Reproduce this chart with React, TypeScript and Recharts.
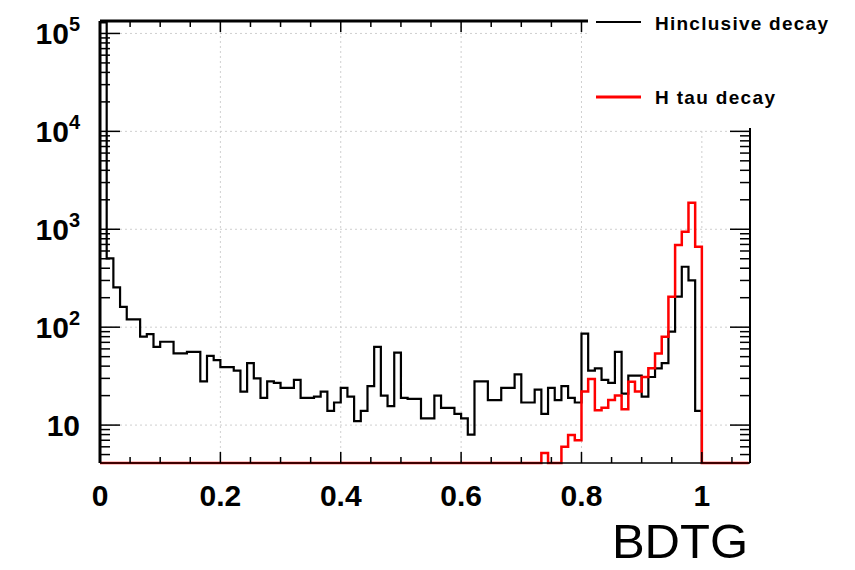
import { LineChart, Line, XAxis, YAxis, CartesianGrid, ReferenceLine } from 'recharts'

// BDTG output, log-scale histogram (ROOT/TMVA style)
const BIN_WIDTH = 1 / 90

// entries per bin, bins start at 0 and step by BIN_WIDTH (0 = empty bin)
const INCLUSIVE = [
  130000, 505, 255, 161, 120, 120, 80, 85, 63, 71,
  71, 54, 54, 56, 56, 28, 51, 46, 39, 39,
  36, 22, 43, 30, 19, 28, 27, 24, 24, 29,
  19, 19, 19.5, 22, 14, 17, 24, 19.5, 11, 14,
  25, 63, 20, 15.6, 55, 19, 18.5, 18.5, 11.7, 11.7,
  20, 15, 15, 13, 11.7, 8, 28, 28, 18, 18,
  24, 24, 33, 17, 17, 23, 13, 24, 18, 25,
  19, 17, 86, 36, 38, 29, 27, 56, 21, 32,
  32, 19.5, 31, 38, 43, 90, 205, 414, 300, 14,
  0, 0, 0, 0, 0, 0, 0,
]
const TAU = [
  0, 0, 0, 0, 0, 0, 0, 0, 0, 0,
  0, 0, 0, 0, 0, 0, 0, 0, 0, 0,
  0, 0, 0, 0, 0, 0, 0, 0, 0, 0,
  0, 0, 0, 0, 0, 0, 0, 0, 0, 0,
  0, 0, 0, 0, 0, 0, 0, 0, 0, 0,
  0, 0, 0, 0, 0, 0, 0, 0, 0, 0,
  0, 0, 0, 0, 0, 0, 5.2, 0, 0, 6,
  7.9, 7, 22, 29.5, 14.2, 15, 18, 20, 14.5, 27.7,
  22, 31, 38, 54, 80, 205, 690, 942, 1862, 662,
  0, 0, 0, 0, 0, 0, 0,
]

const X_TICKS = [0, 0.05, 0.1, 0.15, 0.2, 0.25, 0.3, 0.35, 0.4, 0.45, 0.5, 0.55, 0.6, 0.65, 0.7, 0.75, 0.8, 0.85, 0.9, 0.95, 1, 1.05]
const X_MAJOR = [0, 0.2, 0.4, 0.6, 0.8, 1]
const X_LABELS = ['0', '0.2', '0.4', '0.6', '0.8', '1']
const Y_MAJOR = [10, 100, 1000, 10000, 100000]
const Y_EXP = ['', '2', '3', '4', '5']
const Y_MINOR = [
  5, 6, 7, 8, 9, 20, 30, 40, 50, 60, 70, 80, 90,
  200, 300, 400, 500, 600, 700, 800, 900,
  2000, 3000, 4000, 5000, 6000, 7000, 8000, 9000,
  20000, 30000, 40000, 50000, 60000, 70000, 80000, 90000,
]

const X_MAX = 1.08
const Y_MIN = 4.1
const Y_MAX = 134000

const W = 855
const H = 570
const PLOT_LEFT = 100
const PLOT_RIGHT = 750
const PLOT_TOP = 21
const PLOT_BOTTOM = 463
const FONT = '"Liberation Sans", Arial, Helvetica, sans-serif'

const rows = INCLUSIVE.map((v, i) => ({
  x: i * BIN_WIDTH,
  incl: v > 0 ? v : Y_MIN,
  tau: TAU[i] > 0 ? TAU[i] : Y_MIN,
}))
rows.push({ ...rows[rows.length - 1], x: INCLUSIVE.length * BIN_WIDTH })

function XTick(props: any) {
  const { x, payload } = props
  const k = X_MAJOR.findIndex(m => Math.abs(m - payload.value) < 1e-6)
  const len = k >= 0 ? 11 : 6
  return (
    <g>
      <line x1={x} x2={x} y1={PLOT_BOTTOM} y2={PLOT_BOTTOM - len} stroke="#000" strokeWidth={1.5} />
      <line x1={x} x2={x} y1={PLOT_TOP} y2={PLOT_TOP + len} stroke="#000" strokeWidth={1.5} />
      {k >= 0 && (
        <text x={x} y={PLOT_BOTTOM + 43} textAnchor="middle" fontSize={30} fontWeight="bold" fontFamily={FONT} fill="#000">
          {X_LABELS[k]}
        </text>
      )}
    </g>
  )
}

function YTick(props: any) {
  const { y, payload } = props
  const k = Y_MAJOR.indexOf(payload.value)
  const len = k >= 0 ? 20 : 10
  return (
    <g>
      <line x1={PLOT_LEFT} x2={PLOT_LEFT + len} y1={y} y2={y} stroke="#000" strokeWidth={1.5} />
      <line x1={PLOT_RIGHT} x2={PLOT_RIGHT - len} y1={y} y2={y} stroke="#000" strokeWidth={1.5} />
      {k >= 0 && (
        <text x={80} y={y + 11} textAnchor="end" fontSize={30} fontWeight="bold" fontFamily={FONT} fill="#000">
          <tspan>10</tspan>
          {Y_EXP[k] && (
            <tspan dy={-13} fontSize={20}>
              {Y_EXP[k]}
            </tspan>
          )}
        </text>
      )}
    </g>
  )
}

export default function App() {
  return (
    <div style={{ position: 'absolute', left: 0, top: 0, width: W, height: H, background: '#fff' }}>
      <LineChart
        width={W}
        height={H}
        data={rows}
        margin={{ top: PLOT_TOP, right: W - PLOT_RIGHT, bottom: 0, left: 0 }}
      >
        <CartesianGrid
          horizontalValues={Y_MAJOR}
          verticalValues={[0.2, 0.4, 0.6, 0.8, 1]}
          stroke="#cfcfcf"
          strokeDasharray="2 3"
        />
        <XAxis
          dataKey="x"
          type="number"
          domain={[0, X_MAX]}
          ticks={X_TICKS}
          interval={0}
          tick={<XTick />}
          tickLine={false}
          tickSize={0}
          height={H - PLOT_BOTTOM}
          axisLine={{ stroke: '#000', strokeWidth: 1.5 }}
        />
        <YAxis
          type="number"
          scale="log"
          domain={[Y_MIN, Y_MAX]}
          ticks={[...Y_MAJOR, ...Y_MINOR]}
          interval={0}
          tick={<YTick />}
          tickLine={false}
          tickSize={0}
          width={PLOT_LEFT}
          axisLine={{ stroke: '#000', strokeWidth: 3 }}
        />
        <ReferenceLine y={Y_MAX} stroke="#000" strokeWidth={3} />
        <ReferenceLine x={X_MAX} stroke="#000" strokeWidth={2} />
        <Line
          dataKey="incl"
          type="stepAfter"
          stroke="#000"
          strokeWidth={2.2}
          dot={false}
          isAnimationActive={false}
        />
        <Line
          dataKey="tau"
          type="stepAfter"
          stroke="#ff0000"
          strokeWidth={2.5}
          dot={false}
          isAnimationActive={false}
        />
      </LineChart>

      <svg
        width={267}
        height={128}
        style={{ position: 'absolute', left: 588, top: 0, background: '#fff' }}
      >
        <line x1={8} x2={53} y1={22} y2={22} stroke="#000" strokeWidth={2} />
        <text x={67} y={30} fontSize={19} fontWeight="bold" fontFamily={FONT} textLength={173} lengthAdjust="spacing">
          Hinclusive decay
        </text>
        <line x1={8} x2={53} y1={97} y2={97} stroke="#ff0000" strokeWidth={3} />
        <text x={67} y={104} fontSize={19} fontWeight="bold" fontFamily={FONT} textLength={120} lengthAdjust="spacing">
          H tau decay
        </text>
      </svg>

      <svg width={260} height={70} style={{ position: 'absolute', left: 595, top: 500 }}>
        <text x={153} y={58} textAnchor="end" fontSize={49} fontFamily={FONT} fill="#000">
          BDTG
        </text>
      </svg>
    </div>
  )
}
